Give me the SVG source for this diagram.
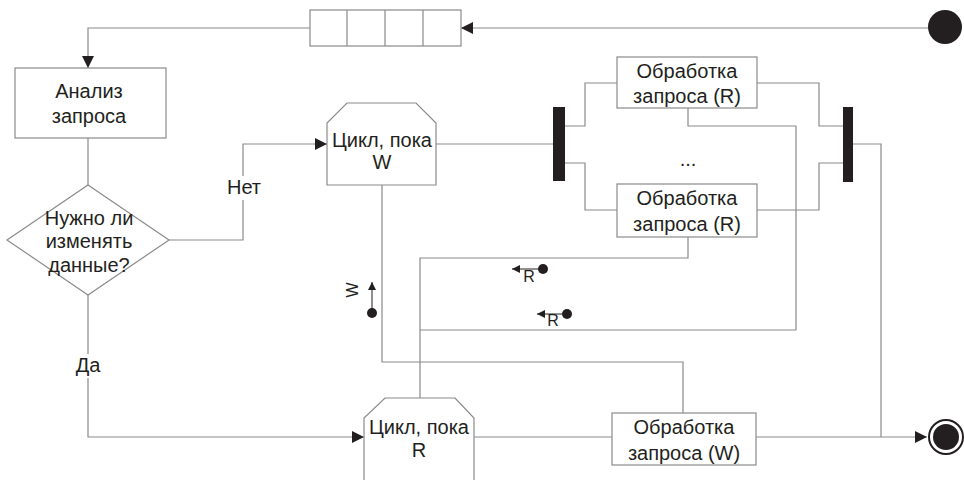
<svg xmlns="http://www.w3.org/2000/svg" width="964" height="480" viewBox="0 0 964 480">
<defs>
<marker id="ah" viewBox="0 0 10 10" refX="10" refY="5" markerWidth="16" markerHeight="12" markerUnits="userSpaceOnUse" orient="auto"><path d="M0,0 L10,5 L0,10 z" fill="#231f20"/></marker>
<marker id="sa" viewBox="0 0 10 10" refX="10" refY="5" markerWidth="10" markerHeight="8" markerUnits="userSpaceOnUse" orient="auto"><path d="M0,0 L10,5 L0,10 z" fill="#231f20"/></marker>
</defs>
<style>
.ln{fill:none;stroke:#8a8a8a;stroke-width:1.2}
.bx{fill:#fff;stroke:#8a8a8a;stroke-width:1.2}
.t{font-family:"Liberation Sans",Arial,sans-serif;font-size:20px;fill:#231f20;text-anchor:middle}
.s{font-family:"Liberation Sans",Arial,sans-serif;font-size:16px;fill:#231f20;text-anchor:middle}
.bar{fill:#231f20}
</style>
<rect width="964" height="480" fill="#fff"/>
<g id="connectors">
<path class="ln" d="M930,28 H461" marker-end="url(#ah)"/>
<path class="ln" d="M310,28 H88 V68" marker-end="url(#ah)"/>
<path class="ln" d="M88,138 V185"/>
<path class="ln" d="M169,240 H243 V144 H327" marker-end="url(#ah)"/>
<path class="ln" d="M88,295 V437 H364" marker-end="url(#ah)"/>
<path class="ln" d="M436,144 H553"/>
<path class="ln" d="M565,126 H585 V83 H617"/>
<path class="ln" d="M565,163 H585 V210 H617"/>
<path class="ln" d="M757,83 H819 V126 H843"/>
<path class="ln" d="M757,210 H819 V163 H843"/>
<path class="ln" d="M853,144 H881 V437"/>
<path class="ln" d="M688,108 V126 H796 V330 H420"/>
<path class="ln" d="M688,237 V258 H420 V398"/>
<path class="ln" d="M382,185 V362 H683 V413"/>
<path class="ln" d="M474,437 H612"/>
<path class="ln" d="M756,437 H927" marker-end="url(#ah)"/>
<rect x="228" y="176" width="32" height="24" fill="#fff"/>
<text class="t" x="244" y="194">Нет</text>
<rect x="74" y="354" width="30" height="24" fill="#fff"/>
<text class="t" x="88" y="372">Да</text>
</g>
<g id="queue">
<rect class="bx" x="310" y="10" width="151" height="36"/>
<path class="ln" d="M347,10 V46 M385,10 V46 M423,10 V46"/>
</g>
<g id="start"><circle cx="945" cy="27" r="17" fill="#231f20"/></g>
<g id="analysis">
<rect class="bx" x="15" y="68" width="151" height="70"/>
<text class="t" x="89" y="98">Анализ</text>
<text class="t" x="89" y="123">запроса</text>
</g>
<g id="decision">
<polygon class="bx" points="88,185 169,240 88,295 7,240"/>
<text class="t" x="89" y="225">Нужно ли</text>
<text class="t" x="89" y="248">изменять</text>
<text class="t" x="89" y="272">данные?</text>
</g>
<g id="loopW">
<polygon class="bx" points="347,103 416,103 436,123 436,185 327,185 327,123"/>
<text class="t" x="382" y="147">Цикл, пока</text>
<text class="t" x="382" y="169">W</text>
</g>
<g id="fork"><rect class="bar" x="553" y="107" width="12" height="74"/></g>
<g id="join"><rect class="bar" x="843" y="107" width="10" height="75"/></g>
<g id="procR1">
<rect class="bx" x="617" y="57" width="140" height="51"/>
<text class="t" x="687" y="78">Обработка</text>
<text class="t" x="687" y="103">запроса (R)</text>
</g>
<text class="t" x="688" y="166">...</text>
<g id="procR2">
<rect class="bx" x="617" y="184" width="140" height="53"/>
<text class="t" x="687" y="205">Обработка</text>
<text class="t" x="687" y="231">запроса (R)</text>
</g>
<g id="loopR">
<polygon class="bx" points="385,398 455,398 474,418 474,482 364,482 364,418"/>
<text class="t" x="419" y="434">Цикл, пока</text>
<text class="t" x="419" y="457">R</text>
</g>
<g id="procW">
<rect class="bx" x="612" y="413" width="144" height="52"/>
<text class="t" x="684" y="434">Обработка</text>
<text class="t" x="684" y="460">запроса (W)</text>
</g>
<g id="end">
<circle cx="946" cy="437" r="17" fill="#fff" stroke="#231f20" stroke-width="2"/>
<circle cx="946" cy="437" r="13" fill="#231f20"/>
</g>
<g id="tokens">
<circle cx="372" cy="313" r="5" fill="#231f20"/>
<path d="M372,313 V282" stroke="#231f20" stroke-width="1" marker-end="url(#sa)"/>
<text class="s" x="358" y="290" transform="rotate(-90 358 290)">W</text>
<circle cx="543" cy="269" r="5" fill="#231f20"/>
<path d="M543,269 H512" stroke="#231f20" stroke-width="1" marker-end="url(#sa)"/>
<text class="s" x="529" y="282">R</text>
<circle cx="567" cy="314" r="5" fill="#231f20"/>
<path d="M567,314 H537" stroke="#231f20" stroke-width="1" marker-end="url(#sa)"/>
<text class="s" x="553" y="326">R</text>
</g>
</svg>
